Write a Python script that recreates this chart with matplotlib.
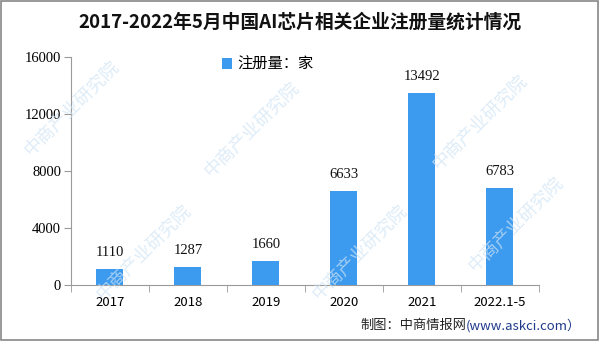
import matplotlib.pyplot as plt
import numpy as np

categories = ['2017', '2018', '2019', '2020', '2021', '2022.1-5']
values = [1110, 1287, 1660, 6633, 13492, 6783]
yticks = [0, 4000, 8000, 12000, 16000]

title = '2017-2022年5月中国AI芯片相关企业注册量统计情况'
legend_label = '注册量：家'
source_a = '制图：中商情报网'
source_b = '(www.askci.com）'
watermark = '中商产业研究院'

cjk = ['Noto Sans CJK SC', 'DejaVu Sans']
serif = ['Liberation Serif', 'DejaVu Serif']
bar_color = '#3d9bef'
axis_color = '#9a9a9a'

fig = plt.figure(figsize=(6, 3.41), dpi=100)
ax = fig.add_axes([0.118, 0.164, 0.78, 0.669])

x = np.arange(len(categories))
ax.bar(x, values, width=0.35, color=bar_color, label=legend_label, zorder=3)
for xi, v in zip(x, values):
    ax.text(xi, v + 700, str(v), ha='center', va='bottom', fontsize=10.5,
            family=serif, color='#111111', zorder=4)

ax.set_xlim(-0.5, len(categories) - 0.5)
ax.set_ylim(0, 16000)
ax.set_yticks(yticks)
ax.set_yticklabels([str(t) for t in yticks], family=serif, fontsize=10.5)

# category labels centred, ticks on the boundaries
ax.set_xticks(x)
ax.set_xticklabels(categories, fontsize=9.5, family=cjk)
ax.tick_params(axis='x', length=0, pad=8)
ax.set_xticks(np.arange(len(categories) + 1) - 0.5, minor=True)
ax.tick_params(axis='x', which='minor', length=5, color=axis_color, direction='out')
ax.tick_params(axis='y', length=5, color=axis_color, pad=2)

for side in ['top', 'right']:
    ax.spines[side].set_visible(False)
ax.spines['left'].set_color(axis_color)
ax.spines['bottom'].set_color(axis_color)

ax.legend(loc='upper center', bbox_to_anchor=(0.42, 1.065), frameon=False,
          handlelength=0.7, handleheight=0.7, handletextpad=0.3,
          prop={'family': cjk, 'size': 11})

fig.text(0.5, 0.935, title, ha='center', va='center', fontsize=13.5,
         fontweight='bold', family=cjk, color='#111111')

# source line: second part sits right after the first
src = fig.text(0.6, 0.045, source_a, ha='left', va='center', fontsize=9.5,
               family=cjk, color='#222222')
ax.annotate(source_b, xy=(1, 0.5), xycoords=src, ha='left', va='center',
            fontsize=9.5, family=cjk, color='#1f3a8a')

# faint diagonal watermarks
for wx, wy in [(0.12, 0.68), (0.42, 0.62), (0.8, 0.64), (0.24, 0.26), (0.6, 0.26), (0.86, 0.34)]:
    fig.text(wx, wy, watermark, rotation=45, ha='center', va='center', fontsize=13,
             family=cjk, color='#cfe4f5', alpha=0.7, zorder=0)

# outer frame
fig.patches.append(plt.Rectangle((0.002, 0.003), 0.995, 0.994, transform=fig.transFigure,
                                 fill=False, edgecolor='#888888', linewidth=1.2))

fig.savefig('out.png', dpi=100)
